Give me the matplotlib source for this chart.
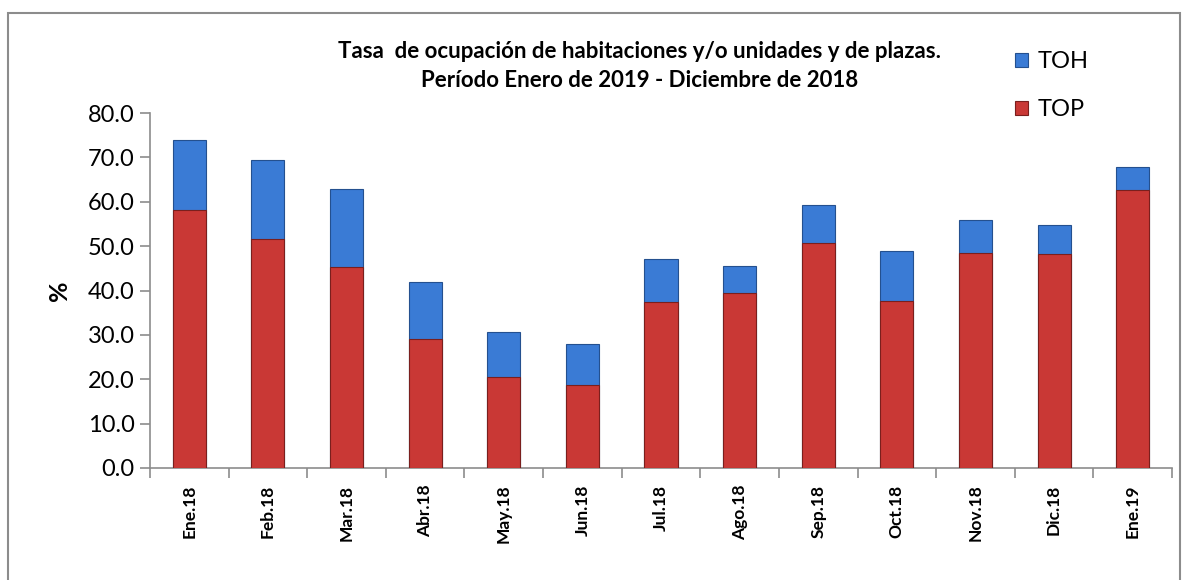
import matplotlib.pyplot as plt
import numpy as np
from matplotlib.patches import Rectangle

# Tasa de ocupación: habitaciones (TOH) y plazas (TOP), en %
meses = ['Ene.18', 'Feb.18', 'Mar.18', 'Abr.18', 'May.18', 'Jun.18', 'Jul.18',
         'Ago.18', 'Sep.18', 'Oct.18', 'Nov.18', 'Dic.18', 'Ene.19']
toh = [73.9, 69.4, 62.8, 42.0, 30.7, 28.0, 47.0, 45.6, 59.2, 48.8, 55.8, 54.7, 67.8]
top = [58.1, 51.5, 45.2, 29.1, 20.5, 18.7, 37.4, 39.5, 50.8, 37.7, 48.5, 48.3, 62.6]

azul = '#3a7bd5'
rojo = '#c93835'

plt.rcParams['font.family'] = ['Lato', 'DejaVu Sans']

fig = plt.figure(figsize=(11.85, 5.8), dpi=100)
ax = fig.add_axes([150 / 1185, 112 / 580, 1022 / 1185, 355 / 580])

x = np.arange(len(meses))
w = 0.42
ax.bar(x, toh, width=w, color=azul, edgecolor='#24508f', linewidth=0.8, label='TOH', zorder=2)
ax.bar(x, top, width=w, color=rojo, edgecolor='#7a1f1d', linewidth=0.8, label='TOP', zorder=3)

ax.set_xlim(-0.5, len(meses) - 0.5)
ax.set_ylim(0, 80)
ax.set_yticks(np.arange(0, 81, 10))
ax.set_yticklabels([f'{v:.1f}' for v in np.arange(0, 81, 10)], fontsize=17)
ax.tick_params(axis='y', length=7, color='#8c8c8c', width=1.2, pad=4)

ax.set_xticks(x)
ax.set_xticklabels(meses, rotation=90, fontsize=12.5, fontweight='bold')
ax.tick_params(axis='x', length=0, pad=12)
ax.set_xticks(np.arange(-0.5, len(meses)), minor=True)
ax.tick_params(axis='x', which='minor', length=7, color='#8c8c8c', width=1.2)

for s in ['top', 'right']:
    ax.spines[s].set_visible(False)
for s in ['left', 'bottom']:
    ax.spines[s].set_color('#8c8c8c')
    ax.spines[s].set_linewidth(1.2)

ax.set_ylabel('%', fontsize=18, fontweight='bold', labelpad=12)

fig.text(640 / 1185, 1 - 51 / 580, 'Tasa  de ocupación de habitaciones y/o unidades y de plazas.',
         ha='center', va='center', fontsize=16, fontweight='bold')
fig.text(640 / 1185, 1 - 80 / 580, 'Período Enero de 2019 - Diciembre de 2018',
         ha='center', va='center', fontsize=16, fontweight='bold')

fig.legend(loc='upper left', bbox_to_anchor=(994 / 1185, 1 - 30 / 580), frameon=False,
           fontsize=17, handlelength=0.55, handleheight=0.55, handletextpad=0.4,
           labelspacing=1.15)

fig.patches.append(Rectangle((8 / 1185, -0.02), 1172 / 1185, 1 - 13 / 580 + 0.02,
                             transform=fig.transFigure, fill=False,
                             edgecolor='#8c8c8c', linewidth=1.5))

fig.savefig('out.png', dpi=100)
